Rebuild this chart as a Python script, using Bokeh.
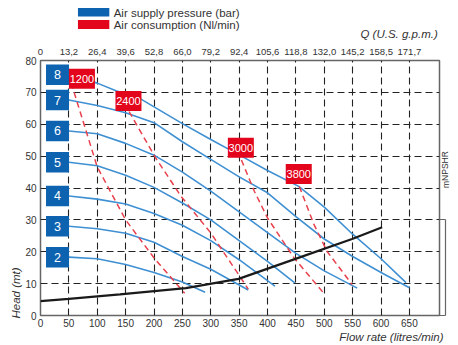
from bokeh.plotting import figure
from bokeh.layouts import column
from bokeh.models import Range1d, LinearAxis, FixedTicker, Title, ColumnDataSource
from bokeh.core.properties import value
from bokeh.embed import file_html
from bokeh.resources import INLINE

# ---------------- data ----------------
flow_ticks = [0, 50, 100, 150, 200, 250, 300, 350, 400, 450, 500, 550, 600, 650]
gpm_labels = ["0", "13,2", "26,4", "39,6", "52,8", "66,0", "79,2", "92,4",
              "105,6", "118,8", "132,0", "145,2", "158,5", "171,7"]
head_ticks = [0, 10, 20, 30, 40, 50, 60, 70, 80]

pressure_labels = ["8", "7", "6", "5", "4", "3", "2"]

p8_flow = [50, 100, 133, 177, 250, 300, 354, 400, 455, 500, 550, 600, 644]
p8_head = [75.5, 72.9, 70.5, 67.9, 60.2, 55.2, 50.0, 45.5, 40.5, 34.0, 25.5, 17.8, 10.3]
p7_flow = [50, 100, 150, 200, 250, 300, 350, 400, 450, 500, 550, 600, 650]
p7_head = [67.6, 65.9, 63.6, 60.5, 54.5, 49.0, 43.5, 38.5, 31.0, 24.0, 18.5, 13.5, 8.7]
p6_flow = [50, 100, 150, 200, 250, 300, 350, 400, 450, 500, 558]
p6_head = [57.9, 57.0, 54.0, 50.3, 45.0, 39.0, 32.5, 26.0, 19.5, 14.0, 8.6]
p5_flow = [50, 100, 150, 200, 250, 300, 350, 400, 448]
p5_head = [48.1, 47.0, 44.0, 40.2, 35.3, 30.0, 23.5, 17.0, 10.2]
p4_flow = [50, 100, 150, 200, 250, 300, 350, 413]
p4_head = [37.5, 36.5, 35.0, 32.0, 28.3, 23.5, 17.5, 9.2]
p3_flow = [50, 100, 150, 200, 250, 300, 366]
p3_head = [28.0, 27.2, 25.8, 23.0, 18.5, 14.5, 8.0]
p2_flow = [50, 100, 150, 200, 250, 290]
p2_head = [18.3, 17.8, 16.0, 13.5, 10.5, 7.3]

air_labels = ["1200", "2400", "3000", "3800"]
air_label_flow = [73, 155, 353, 455]
air_label_head = [74.3, 67.3, 52.6, 44.4]
a1200_flow = [54, 100, 150, 202, 254]
a1200_head = [73.0, 46.6, 30.0, 17.6, 7.0]
a2400_flow = [156, 202, 248, 300, 366]
a2400_head = [64.0, 49.7, 37.3, 25.9, 8.3]
a3000_flow = [354, 377, 400, 447, 500]
a3000_head = [48.8, 38.9, 30.6, 18.0, 6.8]
a3800_flow = [456, 482, 505, 549]
a3800_head = [40.5, 28.5, 20.1, 9.7]

npshr_flow = [0, 50, 140, 256, 349, 453, 549, 602]
npshr_head = [4.5, 5.2, 6.6, 8.6, 11.5, 18.0, 24.0, 27.7]
npshr_scale_ticks = [0, 30]

legend_labels = ["Air supply pressure (bar)", "Air consumption (Nl/min)"]

# ---------------- styling / layout ----------------
FONT = "Liberation Sans"
BLUE_BOX = "#0d63b0"
RED_BOX = "#e3051b"
BLUE_LINE = "#3f90d3"
RED_LINE = "#e8404c"
TXT = "#333333"
W = 458
LEG_H = 40
XMAX, YMAX = 703, 80

# ---------- legend strip (top) ----------
lg = figure(width=W, height=LEG_H, x_range=Range1d(0, W), y_range=Range1d(LEG_H, 0),
            output_backend="svg", toolbar_location=None,
            x_axis_location=None, y_axis_location=None,
            min_border_left=0, min_border_right=0, min_border_top=0, min_border_bottom=0)
lg.outline_line_color = None
lg.xgrid.visible = False
lg.ygrid.visible = False
lg.background_fill_color = "white"
lg.border_fill_color = "white"
leg = ColumnDataSource(dict(l=[43, 43], r=[79, 79], t=[7.5, 19.5], b=[16, 28.5],
                            c=[BLUE_BOX, RED_BOX], tx=[84, 84], ty=[12.3, 24.3],
                            s=legend_labels))
lg.quad(left="l", right="r", top="t", bottom="b", fill_color="c", line_color=None, source=leg)
lg.text("tx", "ty", text="s", text_font=value(FONT), text_font_size="11.5px",
        text_color=TXT, text_baseline="middle", source=leg)
lg.text([456], [33], text=["Q (U.S. g.p.m.)"], text_font=value(FONT), text_font_size="11.5px",
        text_font_style="italic", text_color=TXT, text_align="right", text_baseline="middle")

# ---------- main chart ----------
p = figure(width=W, height=345 - LEG_H, x_range=Range1d(0, XMAX), y_range=Range1d(0, YMAX),
           output_backend="svg", toolbar_location=None,
           x_axis_location=None, y_axis_location=None,
           min_border_left=40, min_border_right=15, min_border_top=20, min_border_bottom=30)
p.background_fill_color = "white"
p.border_fill_color = "white"
p.outline_line_color = "#666666"
p.outline_line_width = 1.5


def style_axis(ax, size):
    ax.axis_line_color = None
    ax.major_tick_line_color = None
    ax.minor_tick_line_color = None
    ax.major_tick_in = 0
    ax.major_tick_out = 0
    ax.major_label_text_font = FONT
    ax.major_label_text_font_size = size
    ax.major_label_text_color = TXT


xb = LinearAxis(ticker=FixedTicker(ticks=flow_ticks))
style_axis(xb, "10px")
xb.major_label_standoff = 3
p.add_layout(xb, "below")
p.add_layout(Title(text="Flow rate (litres/min)", align="right", offset=-4, standoff=0,
                   vertical_align="middle", text_font=FONT, text_font_size="11.5px",
                   text_font_style="italic", text_color=TXT), "below")

xt = LinearAxis(ticker=FixedTicker(ticks=flow_ticks),
                major_label_overrides={t: l for t, l in zip(flow_ticks, gpm_labels)})
style_axis(xt, "9.5px")
xt.major_label_standoff = 6
p.add_layout(xt, "above")

yl = LinearAxis(ticker=FixedTicker(ticks=head_ticks))
style_axis(yl, "10px")
yl.major_label_standoff = 4
p.add_layout(yl, "left")
p.add_layout(Title(text="Head (mt)", align="left", offset=-3, standoff=0,
                   vertical_align="middle", text_font=FONT, text_font_size="11.5px",
                   text_font_style="italic", text_color=TXT), "left")

# NPSHR mini scale on the right: bracket ticks, bracket line, label
r1 = LinearAxis(ticker=FixedTicker(ticks=npshr_scale_ticks),
                major_label_overrides={t: "" for t in npshr_scale_ticks})
r1.axis_line_color = None
r1.minor_tick_line_color = None
r1.major_tick_in = 0
r1.major_tick_out = 6
r1.major_tick_line_color = "#666666"
r1.major_tick_line_width = 1.2
r1.major_label_standoff = 0
p.add_layout(r1, "right")
r2 = LinearAxis(ticker=FixedTicker(ticks=[]), bounds=(npshr_scale_ticks[0], npshr_scale_ticks[-1]))
r2.axis_line_color = "#666666"
r2.axis_line_width = 1.2
r2.major_tick_line_color = None
r2.minor_tick_line_color = None
r2.major_tick_in = 0
r2.major_tick_out = 0
r2.major_label_standoff = 0
p.add_layout(r2, "right")
r3 = LinearAxis(ticker=FixedTicker(ticks=[]), axis_label="mNPSHR")
r3.axis_line_color = None
r3.major_tick_line_color = None
r3.minor_tick_line_color = None
r3.major_tick_in = 0
r3.major_tick_out = 0
r3.major_label_standoff = 0
r3.axis_label_standoff = 0
r3.axis_label_text_font = FONT
r3.axis_label_text_font_size = "8.5px"
r3.axis_label_text_font_style = "normal"
r3.axis_label_text_color = TXT
r3.axis_label_orientation = 1.5708
p.add_layout(r3, "right")

p.xgrid.ticker = FixedTicker(ticks=flow_ticks[1:])
p.ygrid.ticker = FixedTicker(ticks=head_ticks[1:-1])
for g in (p.xgrid, p.ygrid):
    g.grid_line_color = "#222222"
    g.grid_line_dash = "7 4"
    g.grid_line_width = 1.1

# pressure curves
for fx, hy in [(p8_flow, p8_head), (p7_flow, p7_head), (p6_flow, p6_head), (p5_flow, p5_head),
               (p4_flow, p4_head), (p3_flow, p3_head), (p2_flow, p2_head)]:
    p.line(fx, hy, line_color=BLUE_LINE, line_width=1.6)

# air consumption lines
for fx, hy in [(a1200_flow, a1200_head), (a2400_flow, a2400_head),
               (a3000_flow, a3000_head), (a3800_flow, a3800_head)]:
    p.line(fx, hy, line_color=RED_LINE, line_width=1.5, line_dash="6 4")

# NPSHR
p.line(npshr_flow, npshr_head, line_color="#1a1a1a", line_width=2.2)

# pressure boxes at the start of each curve
starts = [p8_head[0], p7_head[0], p6_head[0], p5_head[0], p4_head[0], p3_head[0], p2_head[0]]
pbox = ColumnDataSource(dict(x=[30] * len(starts), y=starts, t=pressure_labels))
p.rect("x", "y", width=23, height=20.5, width_units="screen", height_units="screen",
       fill_color=BLUE_BOX, line_color=None, source=pbox)
p.text("x", "y", text="t", text_color="white", text_align="center", text_baseline="middle",
       text_font=value(FONT), text_font_size="12.5px", source=pbox)

abox = ColumnDataSource(dict(x=air_label_flow, y=air_label_head, t=air_labels))
p.rect("x", "y", width=26, height=20, width_units="screen", height_units="screen",
       fill_color=RED_BOX, line_color=None, source=abox)
p.text("x", "y", text="t", text_color="white", text_align="center", text_baseline="middle",
       text_font=value(FONT), text_font_size="11px", source=abox)

layout = column(lg, p, spacing=0)
open("out.html", "w").write(file_html(layout, INLINE))
